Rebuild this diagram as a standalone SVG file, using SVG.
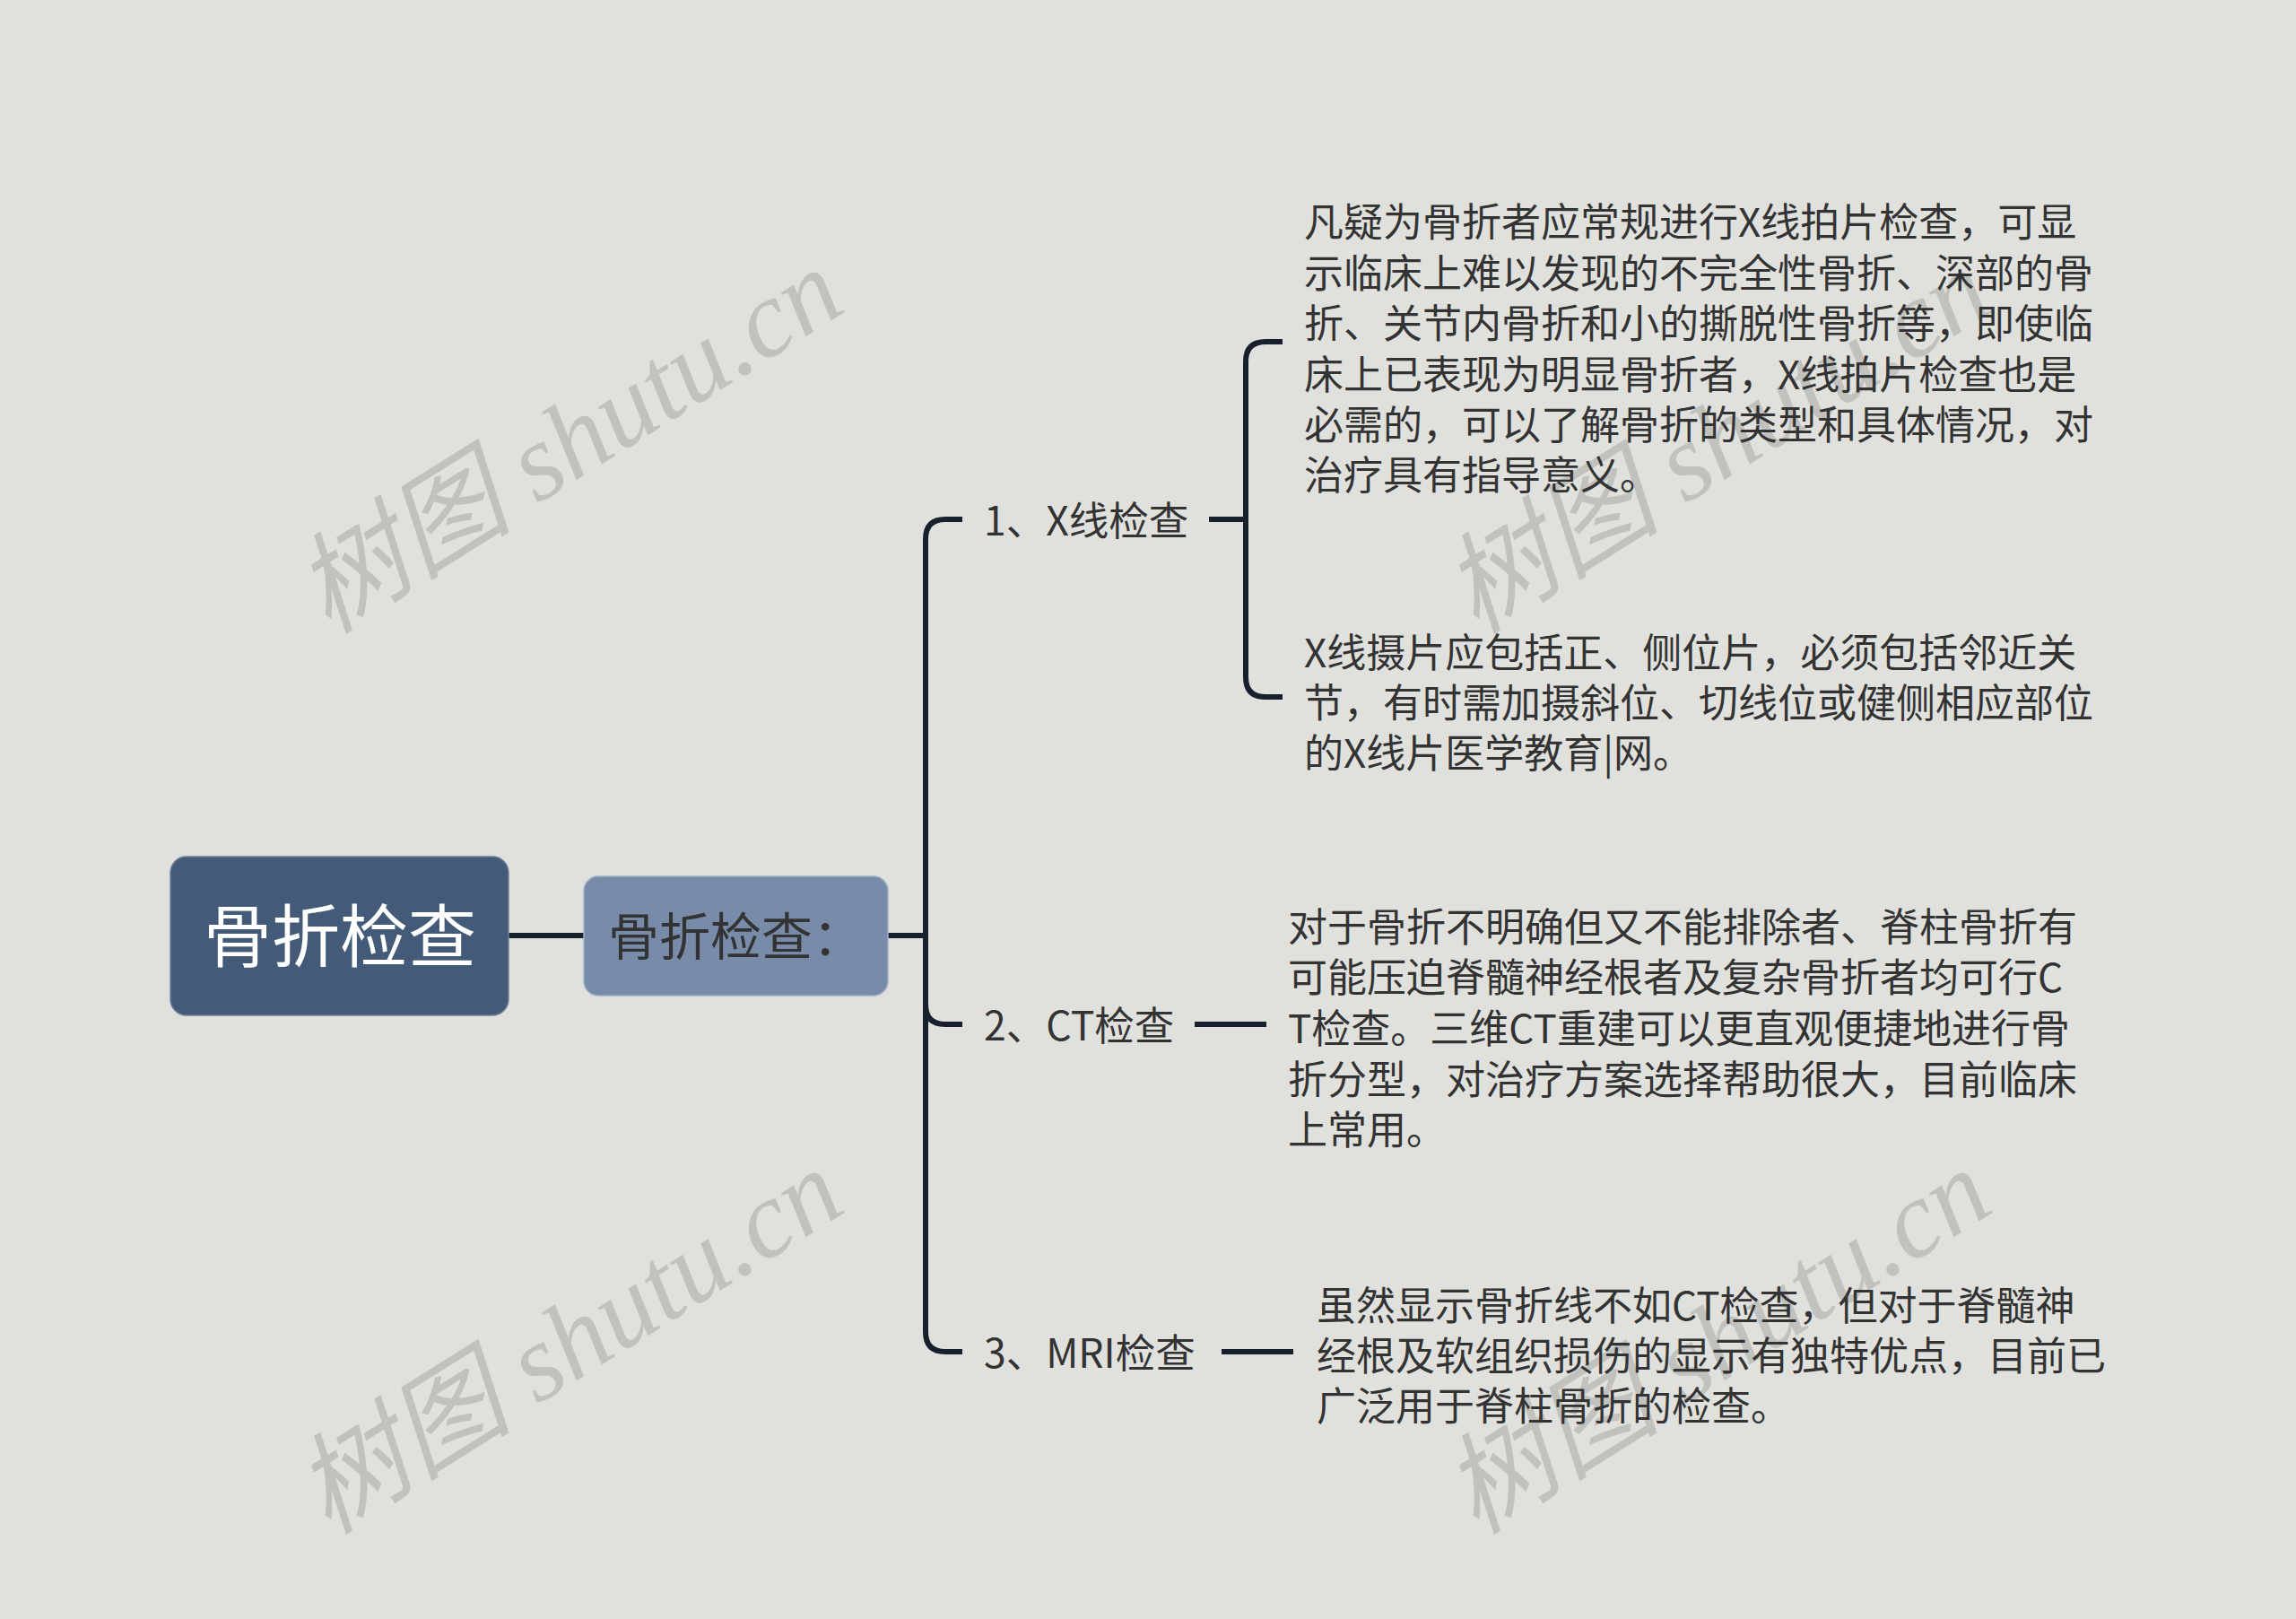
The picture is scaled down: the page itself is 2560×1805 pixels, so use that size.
<svg xmlns="http://www.w3.org/2000/svg" width="2560" height="1805" viewBox="0 0 2560 1805">
<style>
.bg{fill:#e0e1dd}
.wm{fill:#c1c2be;font-family:"Liberation Serif","Noto Sans CJK SC",serif;font-style:italic;font-size:122px}
.ln{fill:none;stroke:#18202e;stroke-width:6;stroke-linecap:butt}
.t{font-family:"Noto Sans CJK SC","Noto Sans",sans-serif;fill:#333333}
.br{font-size:44.5px}
.lf{font-size:44px}
</style>
<rect class="bg" x="0" y="0" width="2560" height="1805"/>
<g id="watermarks">
<text class="wm" transform="translate(366,708) rotate(-32)">树图 shutu.cn</text>
<text class="wm" transform="translate(366,1712) rotate(-32)">树图 shutu.cn</text>
<text class="wm" transform="translate(1646,708) rotate(-32)">树图 shutu.cn</text>
<text class="wm" transform="translate(1646,1712) rotate(-32)">树图 shutu.cn</text>
</g>
<g id="connectors">
<path class="ln" d="M566 1043 H651"/>
<path class="ln" d="M989 1043 H1032"/>
<path class="ln" d="M1032 1043 V601 Q1032 579 1054 579 H1073"/>
<path class="ln" d="M1032 1043 V1120 Q1032 1142 1054 1142 H1073"/>
<path class="ln" d="M1032 1043 V1485 Q1032 1507 1054 1507 H1073"/>
<path class="ln" d="M1348 579 H1389"/>
<path class="ln" d="M1389 579 V403 Q1389 381 1411 381 H1430"/>
<path class="ln" d="M1389 579 V755 Q1389 777 1411 777 H1430"/>
<path class="ln" d="M1332 1142 H1412"/>
<path class="ln" d="M1362 1507 H1442"/>
</g>
<g id="root">
<rect x="190" y="955" width="377" height="177" rx="18" fill="#435a78" stroke="#6f8099" stroke-width="1.5"/>
<text x="379" y="1072" text-anchor="middle" font-family="Noto Sans CJK SC,sans-serif" font-size="76" fill="#ffffff">骨折检查</text>
</g>
<g id="main">
<rect x="651" y="977" width="339" height="133" rx="16" fill="#788caa" stroke="#9fb0c8" stroke-width="1.5"/>
<text class="t" x="678" y="1065" font-size="57">骨折检查：</text>
</g>
<g id="branch1">
<text class="t br" x="1097" y="597">1、X线检查</text>
</g>
<g id="branch2">
<text class="t br" x="1097" y="1160">2、CT检查</text>
</g>
<g id="branch3">
<text class="t br" x="1097" y="1525">3、MRI检查</text>
</g>
<g id="leaf1a">
<text class="t lf" x="1454" y="264">凡疑为骨折者应常规进行X线拍片检查，可显</text>
<text class="t lf" x="1454" y="320.5">示临床上难以发现的不完全性骨折、深部的骨</text>
<text class="t lf" x="1454" y="377">折、关节内骨折和小的撕脱性骨折等，即使临</text>
<text class="t lf" x="1454" y="433.5">床上已表现为明显骨折者，X线拍片检查也是</text>
<text class="t lf" x="1454" y="490">必需的，可以了解骨折的类型和具体情况，对</text>
<text class="t lf" x="1454" y="546">治疗具有指导意义。</text>
</g>
<g id="leaf1b">
<text class="t lf" x="1454" y="744">X线摄片应包括正、侧位片，必须包括邻近关</text>
<text class="t lf" x="1454" y="800">节，有时需加摄斜位、切线位或健侧相应部位</text>
<text class="t lf" x="1454" y="856">的X线片医学教育|网。</text>
</g>
<g id="leaf2">
<text class="t lf" x="1436" y="1050">对于骨折不明确但又不能排除者、脊柱骨折有</text>
<text class="t lf" x="1436" y="1106">可能压迫脊髓神经根者及复杂骨折者均可行C</text>
<text class="t lf" x="1436" y="1163">T检查。三维CT重建可以更直观便捷地进行骨</text>
<text class="t lf" x="1436" y="1219.5">折分型，对治疗方案选择帮助很大，目前临床</text>
<text class="t lf" x="1436" y="1276">上常用。</text>
</g>
<g id="leaf3">
<text class="t lf" x="1468" y="1472">虽然显示骨折线不如CT检查，但对于脊髓神</text>
<text class="t lf" x="1468" y="1528">经根及软组织损伤的显示有独特优点，目前已</text>
<text class="t lf" x="1468" y="1584">广泛用于脊柱骨折的检查。</text>
</g>
</svg>
